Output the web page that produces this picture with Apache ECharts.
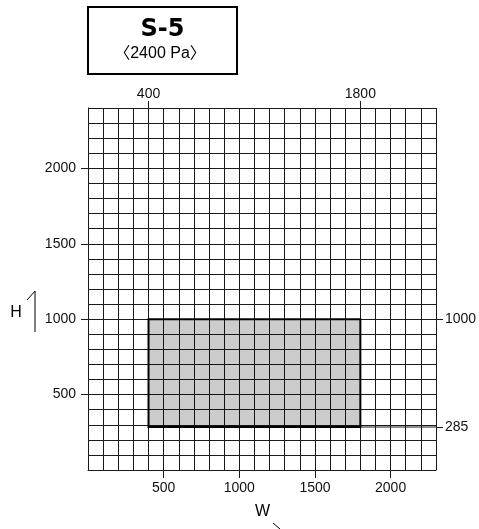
<!DOCTYPE html>
<html>
<head>
<meta charset="utf-8">
<script src="https://cdn.jsdelivr.net/npm/echarts@6.0.0/dist/echarts.min.js"></script>
<style>
    html, body { margin: 0; padding: 0; background: #fff; }
    #main { width: 479px; height: 529px; }
</style>
</head>
<body>
<div id="main"></div>
<script>
// range of the sheet (W, H)
var wExtent = [0, 2300];
var hExtent = [0, 2400];
var gridStep = 100;
// tick labels
var wTicks = [500, 1000, 1500, 2000];
var hTicks = [500, 1000, 1500, 2000];
// allowed size area
var wLimits = [400, 1800];
var hLimits = [285, 1000];
var titleText = 'S-5';
var pressureText = '〈2400 Pa〉';

var labelFont = 'Liberation Sans';
var lineColor = '#1a1a1a';

RenderSizeChart();

/**
 * draw the size chart
 */
function RenderSizeChart() {
    var dom = document.getElementById('main');
    var chart = echarts.init(dom, null, {renderer: 'canvas'});

    var plain = function (v) { return String(v); };

    var labelStyle = {
        fontSize: 14,
        color: '#111',
        fontFamily: labelFont,
        formatter: plain
    };

    // axis with only a few ticks/labels, no grid lines
    var markAxis = function (position, ext, values, tickLen, margin) {
        return {
            type: 'value',
            position: position,
            min: ext[0],
            max: ext[1],
            axisLine: {show: false, onZero: false},
            splitLine: {show: false},
            axisTick: {show: true, customValues: values, length: tickLen, lineStyle: {color: lineColor}},
            axisLabel: Object.assign({show: true, customValues: values, margin: margin}, labelStyle)
        };
    };

    // axis that gives the 100 mm grid lines
    var gridAxis = function (position, ext) {
        return {
            type: 'value',
            position: position,
            min: ext[0],
            max: ext[1],
            interval: gridStep,
            axisLine: {show: true, onZero: false, lineStyle: {color: lineColor, width: 1}},
            axisTick: {show: false},
            axisLabel: {show: false},
            splitLine: {show: true, lineStyle: {color: lineColor, width: 1}}
        };
    };

    var option = {
        animation: false,
        grid: {
            left: 88,
            right: 43,
            top: 108,
            bottom: 59,
            containLabel: false,
            outerBoundsMode: 'none'
        },
        xAxis: [
            gridAxis('bottom', wExtent),
            markAxis('bottom', wExtent, wTicks, 8, 11),
            markAxis('top', wExtent, wLimits, 7, 7)
        ],
        yAxis: [
            gridAxis('left', hExtent),
            markAxis('left', hExtent, hTicks, 7, 12),
            markAxis('right', hExtent, hLimits, 7, 9)
        ],
        graphic: [
            {
                type: 'rect',
                shape: {x: 88, y: 7, width: 149, height: 67},
                style: {fill: '#fff', stroke: '#000', lineWidth: 2}
            },
            {
                type: 'text',
                x: 162.5,
                y: 30,
                style: {
                    text: titleText,
                    fontSize: 24,
                    fontWeight: 'bold',
                    fontFamily: 'DejaVu Sans',
                    align: 'center',
                    verticalAlign: 'middle',
                    fill: '#000'
                }
            },
            {
                type: 'text',
                x: 160,
                y: 54,
                style: {
                    text: pressureText,
                    fontSize: 16,
                    fontFamily: labelFont + ', Noto Sans CJK JP',
                    align: 'center',
                    verticalAlign: 'middle',
                    fill: '#000'
                }
            },
            {
                type: 'text',
                x: 16,
                y: 313,
                style: {
                    text: 'H',
                    fontSize: 16,
                    fontFamily: labelFont,
                    align: 'center',
                    verticalAlign: 'middle',
                    fill: '#000'
                }
            },
            {
                type: 'polyline',
                shape: {points: [[27, 300], [35, 291], [35, 332]]},
                style: {stroke: '#000', lineWidth: 1, fill: null}
            },
            {
                type: 'text',
                x: 262.5,
                y: 512,
                style: {
                    text: 'W',
                    fontSize: 16,
                    fontFamily: labelFont,
                    align: 'center',
                    verticalAlign: 'middle',
                    fill: '#000'
                }
            },
            {
                type: 'line',
                shape: {x1: 273, y1: 523, x2: 280, y2: 529},
                style: {stroke: '#000', lineWidth: 1}
            }
        ],
        series: [{
            type: 'custom',
            xAxisIndex: 0,
            yAxisIndex: 0,
            clip: false,
            data: [[wLimits[0], hLimits[0], wLimits[1], hLimits[1]]],
            renderItem: function (params, api) {
                var topLeft = api.coord([api.value(0), api.value(3)]);
                var bottomRight = api.coord([api.value(2), api.value(1)]);
                var edge = api.coord([wExtent[1], api.value(1)]);
                return {
                    type: 'group',
                    children: [{
                        type: 'line',
                        shape: {x1: bottomRight[0], y1: bottomRight[1], x2: edge[0], y2: edge[1]},
                        style: {stroke: lineColor, lineWidth: 1}
                    }, {
                        type: 'rect',
                        shape: {
                            x: topLeft[0],
                            y: topLeft[1],
                            width: bottomRight[0] - topLeft[0],
                            height: bottomRight[1] - topLeft[1]
                        },
                        style: {fill: 'rgba(0,0,0,0.2)', stroke: '#000', lineWidth: 2}
                    }]
                };
            }
        }]
    };

    chart.setOption(option);

    window.addEventListener('resize', function () {
        chart.resize();
    });
}
</script>
</body>
</html>
